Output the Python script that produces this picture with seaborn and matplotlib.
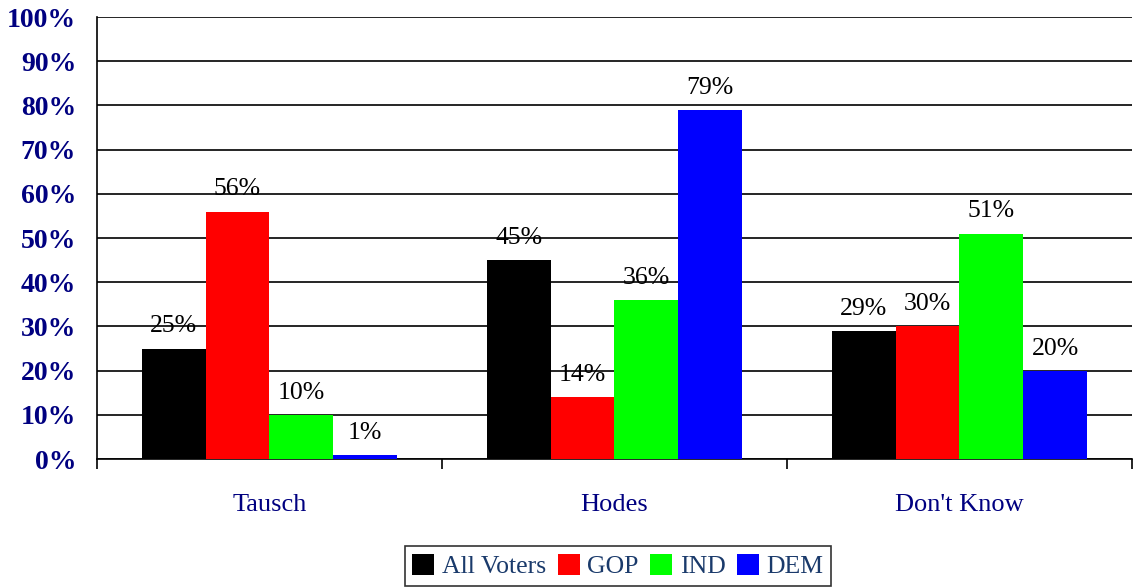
import pandas as pd
import matplotlib.pyplot as plt
import seaborn as sns
import numpy as np

# data
categories = ['Tausch', 'Hodes', "Don't Know"]
groups = ['All Voters', 'GOP', 'IND', 'DEM']
all_voters = [25, 45, 29]
gop = [56, 14, 30]
ind = [10, 36, 51]
dem = [1, 79, 20]
colors = ['#000000', '#FF0000', '#00FF00', '#0000FF']

rows = []
for g, vals in zip(groups, [all_voters, gop, ind, dem]):
    for c, v in zip(categories, vals):
        rows.append({'category': c, 'group': g, 'value': v})
df = pd.DataFrame(rows)

sns.set_style("white")
plt.rcParams['font.family'] = ['Liberation Serif', 'DejaVu Serif']

fig = plt.figure(figsize=(11.33, 5.87), dpi=100)
ax = fig.add_axes([0.0856, 0.218, 0.9134, 0.753])

sns.barplot(data=df, x='category', y='value', hue='group', order=categories,
            hue_order=groups, palette=colors, saturation=1, width=0.74,
            linewidth=0, ax=ax, zorder=3)

# value labels above bars
for container in ax.containers:
    ax.bar_label(container, fmt='%d%%', padding=8, fontsize=18.5, color='black')

ax.set_ylim(0, 100)
ax.set_xlim(-0.5, 2.5)
ax.set_yticks(np.arange(0, 101, 10))
ax.set_yticklabels([f'{v}%' for v in range(0, 101, 10)],
                   fontsize=20, fontweight='bold', color='#000080')
ax.tick_params(axis='y', length=7, width=1.2, color='black', pad=8)
ax.yaxis.grid(True, color='black', linewidth=1.2, zorder=0)
ax.set_axisbelow(True)

# category labels with separator ticks between groups
ax.set_xticks([0, 1, 2])
ax.set_xticklabels(categories, fontsize=19, color='#000080')
ax.tick_params(axis='x', which='major', length=0, pad=25)
ax.set_xticks([-0.5, 0.5, 1.5, 2.5], minor=True)
ax.tick_params(axis='x', which='minor', length=7, width=1.2, color='black',
               direction='out', bottom=True)

ax.set_xlabel('')
ax.set_ylabel('')
for side in ['top', 'right']:
    ax.spines[side].set_visible(False)
for side in ['left', 'bottom']:
    ax.spines[side].set_color('black')
    ax.spines[side].set_linewidth(1.2)

handles, labels = ax.get_legend_handles_labels()
ax.get_legend().remove()
leg = fig.legend(handles, labels, loc='lower center', bbox_to_anchor=(0.5455, -0.02),
                 ncol=4, fontsize=18.5, frameon=True, fancybox=False,
                 edgecolor='black', handlelength=0.85, handleheight=0.85,
                 handletextpad=0.3, columnspacing=0.45, borderpad=0.3)
leg.get_frame().set_linewidth(1.2)
for t in leg.get_texts():
    t.set_color('#1a3a6b')

plt.savefig('out.png', dpi=100)
plt.close()
